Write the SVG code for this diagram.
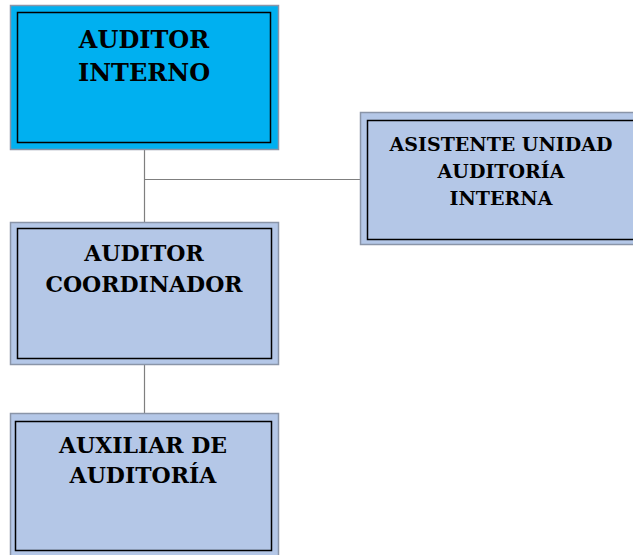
<svg xmlns="http://www.w3.org/2000/svg" width="633" height="555" viewBox="0 0 633 555">
<style>
.outer{stroke:#8a95a8;stroke-width:1.5}
.inner{fill:none;stroke:#000;stroke-width:1.5}
.blue{fill:#00B0F0}
.light{fill:#B4C7E7}
text{font-family:"DejaVu Serif","Liberation Serif",serif;font-weight:bold;fill:#000;text-anchor:middle}
.conn{stroke:#7f7f7f;stroke-width:1.2;fill:none}
</style>
<rect width="633" height="555" fill="#fff"/>
<g id="connectors">
<path class="conn" d="M144.5 150 V222"/>
<path class="conn" d="M144.5 179.5 H360"/>
<path class="conn" d="M144.5 365 V413"/>
</g>
<g id="auditor-interno">
<rect class="outer blue" x="10.5" y="5.5" width="268" height="144"/>
<rect class="inner" x="17.5" y="12.5" width="253" height="130"/>
<text x="144" y="48" font-size="24">AUDITOR</text>
<text x="144" y="81" font-size="24">INTERNO</text>
</g>
<g id="asistente">
<rect class="outer light" x="360.5" y="112.5" width="280" height="132"/>
<rect class="inner" x="367.5" y="120.5" width="270" height="119"/>
<text x="501" y="151" font-size="19">ASISTENTE UNIDAD</text>
<text x="501" y="178" font-size="19">AUDITORÍA</text>
<text x="501" y="205" font-size="19">INTERNA</text>
</g>
<g id="auditor-coordinador">
<rect class="outer light" x="10.5" y="222.5" width="268" height="142"/>
<rect class="inner" x="17.5" y="228.5" width="254" height="130"/>
<text x="144" y="261" font-size="22">AUDITOR</text>
<text x="144" y="292" font-size="22">COORDINADOR</text>
</g>
<g id="auxiliar">
<rect class="outer light" x="10.5" y="413.5" width="268" height="150"/>
<rect class="inner" x="15.5" y="421.5" width="256" height="129"/>
<text x="143" y="453" font-size="22">AUXILIAR DE</text>
<text x="143" y="483" font-size="22">AUDITORÍA</text>
</g>
</svg>
